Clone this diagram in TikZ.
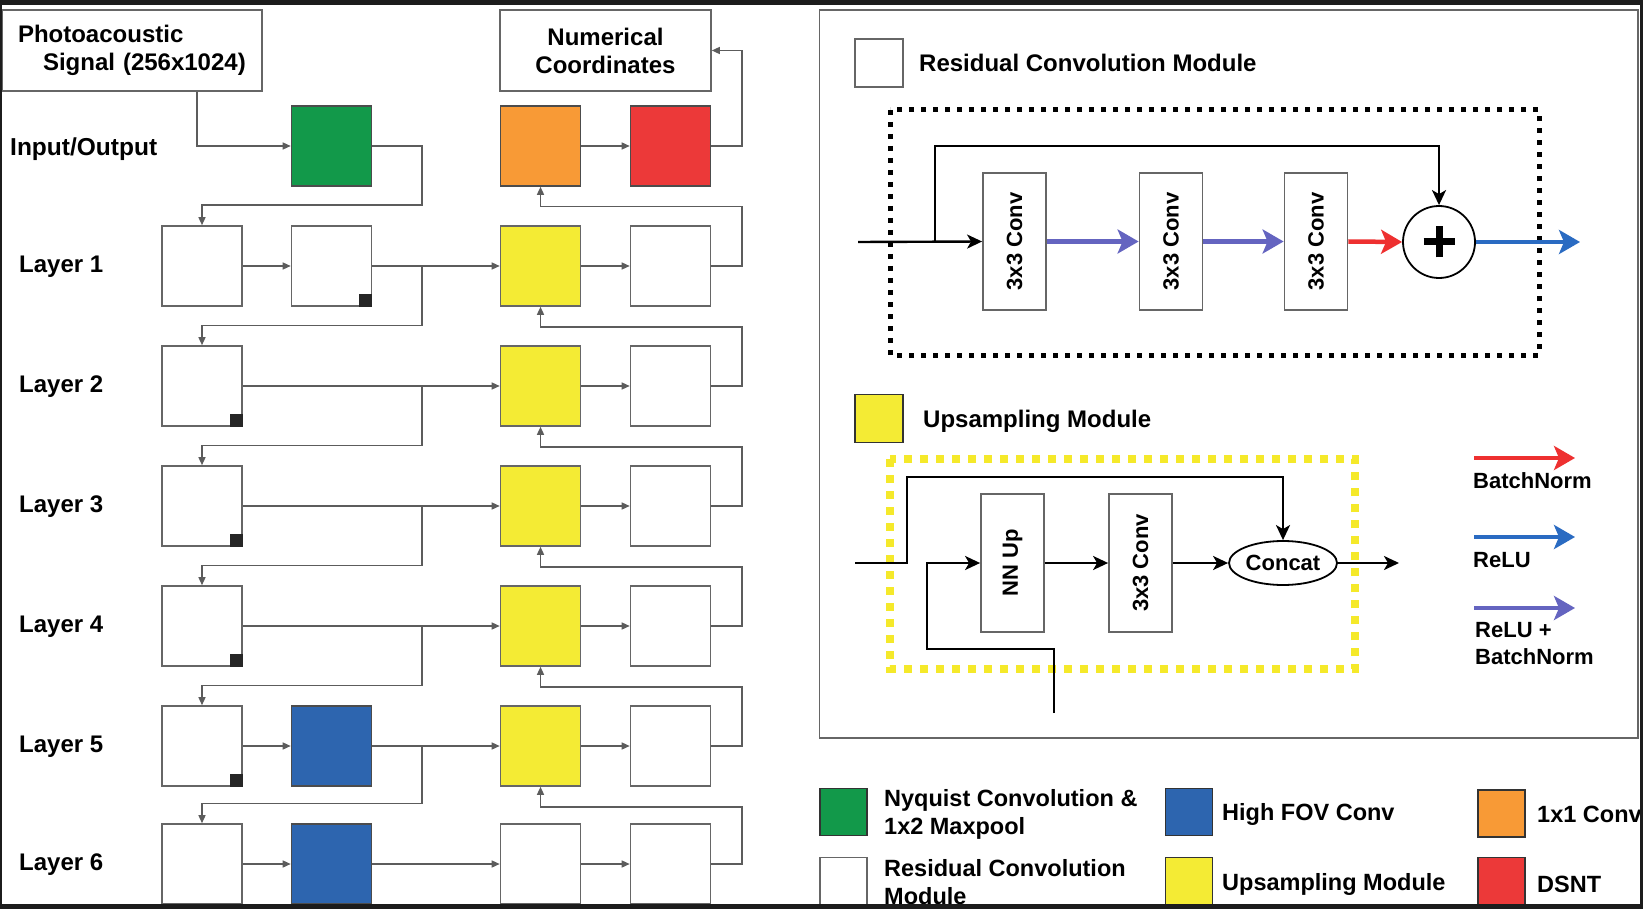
\documentclass[tikz,border=0pt]{standalone}
\usepackage{fontspec}
\usepackage{graphicx}
\setmainfont{Liberation Sans}
\usetikzlibrary{arrows.meta,calc,shapes.geometric}
\definecolor{frame}{HTML}{1C1C1C}
\definecolor{boxgray}{HTML}{666666}
\definecolor{linegray}{HTML}{5C5C5C}
\definecolor{cgreen}{HTML}{12994A}
\definecolor{cblue}{HTML}{2D65AF}
\definecolor{cyellow}{HTML}{F4EB34}
\definecolor{corange}{HTML}{F89A36}
\definecolor{cred}{HTML}{EC3939}
\definecolor{apurple}{HTML}{6464C0}
\definecolor{ablue}{HTML}{2A6BC2}
\definecolor{ared}{HTML}{EE3030}
\definecolor{dotyellow}{HTML}{F5E92A}
\begin{document}
\begin{tikzpicture}[x=1pt,y=-1pt,
  font=\bfseries\fontsize{24}{28}\selectfont,
  blkbox/.style={draw=boxgray, line width=1.6pt, minimum width=80pt, minimum height=80pt, inner sep=0pt, fill=white},
  iobox/.style={draw=boxgray, line width=1.6pt, inner sep=0pt, fill=white},
  conn/.style={draw=linegray, line width=1.4pt, -{Triangle[length=8pt,width=7pt]}},
  panelbox/.style={draw=boxgray, line width=1.8pt, inner sep=0pt, minimum width=63pt, minimum height=137pt, fill=white, font=\bfseries\fontsize{22}{26}\selectfont},
  barrow/.style={draw=black, line width=2.4pt, -{Stealth[length=15pt,width=14pt,inset=4pt]}},
  carrow/.style={line width=4.5pt, -{Stealth[length=21pt,width=24pt,inset=5pt]}},
  legsq/.style={draw=black!80, line width=1.8pt, minimum width=47pt, minimum height=47pt, inner sep=0pt},
  legtext/.style={anchor=west, align=left, inner sep=0pt, font=\bfseries\fontsize{23.5}{28}\selectfont},
  rtext/.style={anchor=west, align=left, inner sep=0pt, font=\bfseries\fontsize{22}{27}\selectfont},
  rtitle/.style={anchor=west, inner sep=0pt, font=\bfseries\fontsize{24}{28}\selectfont}
]
\useasboundingbox (0,0) rectangle (1643,909);
\fill[white] (0,0) rectangle (1643,909);

% ---------------- left network ----------------
\node[iobox, minimum width=260pt, minimum height=81pt, text width=228pt, align=left] (sig) at (132,50.5) {Photoacoustic\\\hspace*{25pt}Signal~(256x1024)};
\node[iobox, minimum width=211pt, minimum height=81pt, align=center] (num) at (605.5,50.5) {Numerical\\Coordinates};

\node[anchor=west, inner sep=0pt, font=\bfseries\fontsize{24.5}{28}\selectfont] (lio) at (10,149) {Input/Output};
\foreach \i/\y in {1/267,2/387,3/507,4/627,5/747,6/865} {
  \node[anchor=west, inner sep=0pt] (lab\i) at (19,\y) {Layer \i};
}

\node[blkbox, fill=cgreen, draw=black!70] (green) at (331.5,146) {};
\node[blkbox, fill=corange, draw=black!70] (orange) at (540.5,146) {};
\node[blkbox, fill=cred, draw=black!70] (red) at (670.5,146) {};

\foreach \i/\y in {1/266,2/386,3/506,4/626,5/746,6/864} {
  \node[blkbox] (A\i) at (202,\y) {};
  \node[blkbox] (D\i) at (670.5,\y) {};
}
\node[blkbox] (B1) at (331.5,266) {};
\node[blkbox, fill=cblue, draw=black!70] (B5) at (331.5,746) {};
\node[blkbox, fill=cblue, draw=black!70] (B6) at (331.5,864) {};
\foreach \i/\y in {1/266,2/386,3/506,4/626,5/746} {
  \node[blkbox, fill=cyellow, draw=black!60] (C\i) at (540.5,\y) {};
}
\node[blkbox] (C6) at (540.5,864) {};

\foreach \n in {B1,A2,A3,A4,A5} {
  \fill[black!85] (\n.south east) rectangle ++(-13,-13);
}

\coordinate (busL) at (422,0);
\coordinate (busR) at (742,0);

\draw[conn] ([xshift=65pt]sig.south) |- (green.west);
\draw[conn] (green.east) -- (green.east -| busL) |- ([yshift=20pt]A1.north) -- (A1.north);

% layer 1
\draw[conn] (A1.east) -- (B1.west);
\draw[conn] (B1.east) -- (C1.west);
\draw[conn] (B1.east -| busL) |- ([yshift=20pt]A2.north) -- (A2.north);
% layers 2-4
\foreach \i/\j in {2/3,3/4,4/5} {
  \draw[conn] (A\i.east) -- (C\i.west);
  \draw[conn] (A\i.east -| busL) |- ([yshift=20pt]A\j.north) -- (A\j.north);
}
% layer 5
\draw[conn] (A5.east) -- (B5.west);
\draw[conn] (B5.east) -- (C5.west);
\draw[conn] (B5.east -| busL) |- ([yshift=20pt]A6.north) -- (A6.north);
% layer 6
\draw[conn] (A6.east) -- (B6.west);
\draw[conn] (B6.east) -- (C6.west);

% decoder
\foreach \i in {1,...,6} {
  \draw[conn] (C\i.east) -- (D\i.west);
}
\draw[conn] (D1.east) -- (D1.east -| busR) |- ([yshift=-20pt]orange.south) -- (orange.south);
\foreach \i/\j in {2/1,3/2,4/3,5/4,6/5} {
  \draw[conn] (D\i.east) -- (D\i.east -| busR) |- ([yshift=-20pt]C\j.south) -- (C\j.south);
}
\draw[conn] (orange.east) -- (red.west);
\draw[conn] (red.east) -- (red.east -| busR) |- (num.east);

% ---------------- right panel ----------------
\draw[draw=boxgray, line width=1.8pt] (819.5,10) rectangle (1638,738);

% residual module legend
\node[legsq, fill=white, draw=boxgray, minimum width=48pt, minimum height=48pt] (rleg) at (879,63) {};
\node[rtitle] (rlegt) at (919,63) {Residual Convolution Module};
\draw[black, line width=5pt, dash pattern=on 5pt off 7pt] (890,110) rectangle (1539,355);

\node[panelbox] (cv1) at (1014.5,241.5) {\rotatebox{90}{3x3 Conv}};
\node[panelbox] (cv2) at (1171,241.5) {\rotatebox{90}{3x3 Conv}};
\node[panelbox] (cv3) at (1316,241.5) {\rotatebox{90}{3x3 Conv}};
\node[circle, draw=black, line width=1.8pt, minimum size=72pt, inner sep=0pt, fill=white] (add) at (1439,242) {};
\draw[black, line width=7pt] ([xshift=-15.5pt]add.center) -- ([xshift=15.5pt]add.center);
\draw[black, line width=7pt] ([yshift=-15.5pt]add.center) -- ([yshift=15.5pt]add.center);

\coordinate (rin) at (858,242);
\coordinate (rskip) at (935,146);
\coordinate (rout) at (1580,242);
\draw[barrow] (rin) -- (cv1.west);
\draw[barrow] (rin -| rskip) -- (rskip) -| (add.north);
\draw[carrow, apurple] (cv1.east) -- (cv2.west);
\draw[carrow, apurple] (cv2.east) -- (cv3.west);
\draw[carrow, ared] (cv3.east) -- (add.west);
\draw[carrow, ablue] (add.east) -- (rout);

% upsampling module legend
\node[legsq, fill=cyellow, draw=black!80, minimum width=48pt, minimum height=48pt] (uleg) at (879,418.5) {};
\node[rtitle] (ulegt) at (923,421) {Upsampling Module};
\draw[dotyellow, line width=8pt, dash pattern=on 8pt off 8pt] (890,459) rectangle (1355,669);

\node[panelbox, minimum height=138pt] (nnup) at (1012.5,563) {\rotatebox{90}{NN Up}};
\node[panelbox, minimum height=138pt] (ucv) at (1140.5,563) {\rotatebox{90}{3x3 Conv}};
\node[ellipse, draw=black, line width=1.8pt, minimum width=108pt, minimum height=44pt, inner sep=0pt, fill=white, font=\bfseries\fontsize{22}{26}\selectfont] (concat) at (1283,563) {Concat};

\coordinate (uin) at (855,563);
\coordinate (uskip) at (907,477);
\coordinate (ubot) at (1054,713);
\coordinate (ucorner) at (927,649);
\coordinate (uout) at (1399,563);
\draw[barrow] (uin) -- (uin -| uskip) -- (uskip) -| (concat.north);
\draw[barrow] (ubot) |- (ucorner) |- (nnup.west);
\draw[barrow] (nnup.east) -- (ucv.west);
\draw[barrow] (ucv.east) -- (concat.west);
\draw[barrow] (concat.east) -- (uout);

% activation legend
\coordinate (la1) at (1474,458);
\coordinate (lb1) at (1575,458);
\coordinate (la2) at (1474,537);
\coordinate (lb2) at (1575,537);
\coordinate (la3) at (1474,608);
\coordinate (lb3) at (1575,608);
\draw[carrow, ared] (la1) -- (lb1);
\draw[carrow, ablue] (la2) -- (lb2);
\draw[carrow, apurple] (la3) -- (lb3);
\node[rtext] (tbn) at (1473,481) {BatchNorm};
\node[rtext] (trelu) at (1473,560) {ReLU};
\node[rtext] (trb) at (1475,644) {ReLU +\\BatchNorm};

% ---------------- bottom legend ----------------
\node[legsq, fill=cgreen] (lg1) at (843.5,812) {};
\node[legtext] (lt1) at (884,814) {Nyquist Convolution \&\\1x2 Maxpool};
\node[legsq, fill=cblue] (lg2) at (1189,812) {};
\node[legtext] (lt2) at (1222,814) {High FOV Conv};
\node[legsq, fill=corange] (lg3) at (1501.5,813.5) {};
\node[legtext] (lt3) at (1537,814) {1x1 Conv};
\node[legsq, fill=white, draw=boxgray] (lg4) at (843.5,881) {};
\node[legtext] (lt4) at (884,882) {Residual Convolution\\Module};
\node[legsq, fill=cyellow] (lg5) at (1189,881) {};
\node[legtext] (lt5) at (1222,884) {Upsampling Module};
\node[legsq, fill=cred] (lg6) at (1501.5,881) {};
\node[legtext] (lt6) at (1537,884) {DSNT};

% ---------------- screenshot frame ----------------
\fill[frame] (0,0) rectangle (1643,5);
\fill[frame] (0,904) rectangle (1643,909);
\fill[frame] (0,0) rectangle (2,909);
\fill[frame] (1640,0) rectangle (1643,909);
\end{tikzpicture}
\end{document}
